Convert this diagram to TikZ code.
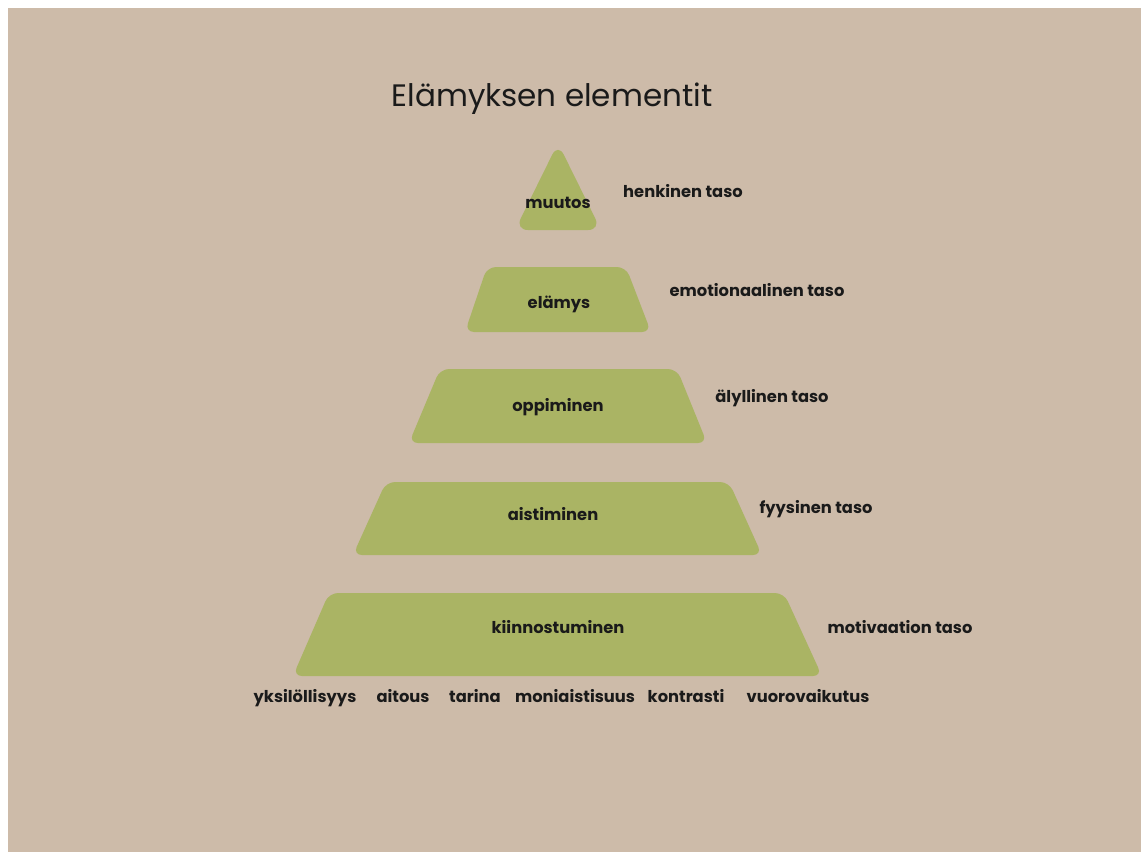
\documentclass[tikz,border=0pt]{standalone}
\usepackage{fontspec}
\setmainfont{Poppins}
\definecolor{sand}{HTML}{CDBBA9}
\definecolor{leaf}{HTML}{AAB464}
\definecolor{ink}{HTML}{1A1A1A}
\begin{document}
\begin{tikzpicture}[x=1pt,y=-1pt,
  tier/.style={fill=leaf, draw=none, rounded corners=9pt},
  label text/.style={font=\fontsize{16.3}{19}\selectfont\bfseries, text=ink, inner sep=0pt, anchor=base},
  tierlabel/.style={label text},
  levellabel/.style={label text},
  factor/.style={label text}]
  % page and background
  \fill[white] (0,0) rectangle (1141,852);
  \fill[sand] (8,8) rectangle (1141,852);
  \useasboundingbox (0,0) rectangle (1141,852);

  % title
  \node[font=\fontsize{31}{37}\selectfont, text=ink, inner sep=0pt, anchor=base] (title) at (552,106) {Elämyksen elementit};

  % pyramid tiers
  \fill[tier, rounded corners=13pt] (558,143) -- (601,230) -- (515,230) -- cycle;
  \fill[tier] (487,267) -- (626,267) -- (651,332) -- (465,332) -- cycle;
  \fill[tier] (440,369) -- (677,369) -- (707,443) -- (409,443) -- cycle;
  \fill[tier] (386,482) -- (729,482) -- (762,555) -- (353,555) -- cycle;
  \fill[tier] (329,593) -- (784,593) -- (822,676) -- (293,676) -- cycle;

  % tier names
  \node[tierlabel] (muutos) at (558,208) {muutos};
  \node[tierlabel] (elamys) at (559,308) {elämys};
  \node[tierlabel] (oppiminen) at (558,411) {oppiminen};
  \node[tierlabel] (aistiminen) at (553,520) {aistiminen};
  \node[tierlabel] (kiinnostuminen) at (558,633) {kiinnostuminen};

  % levels
  \node[levellabel] (henkinen) at (683,197) {henkinen taso};
  \node[levellabel] (emotionaalinen) at (757,296) {emotionaalinen taso};
  \node[levellabel] (alyllinen) at (772,402) {älyllinen taso};
  \node[levellabel] (fyysinen) at (816,513) {fyysinen taso};
  \node[levellabel] (motivaatio) at (900,633) {motivaation taso};

  % elements along the base
  \node[factor] (yksilo) at (305,702) {yksilöllisyys};
  \node[factor] (aitous) at (403,702) {aitous};
  \node[factor] (tarina) at (475,702) {tarina};
  \node[factor] (monia) at (575,702) {moniaistisuus};
  \node[factor] (kontrasti) at (686,702) {kontrasti};
  \node[factor] (vuoro) at (808,702) {vuorovaikutus};
\end{tikzpicture}
\end{document}
